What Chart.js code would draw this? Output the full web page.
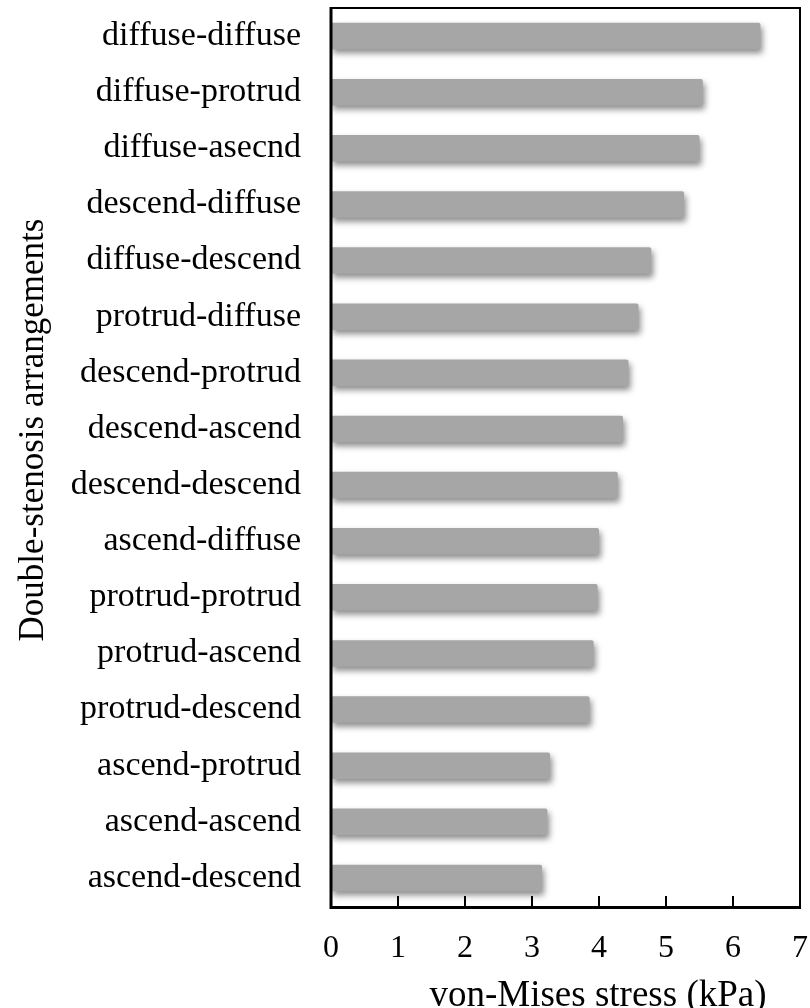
<!DOCTYPE html>
<html>
<head>
<meta charset="utf-8">
<script src="https://cdn.jsdelivr.net/npm/chart.js@4"></script>
<style>
  html, body { margin:0; padding:0; background:#fff; }
  #wrap { width:810px; height:1008px; }
</style>
</head>
<body>
<div id="wrap"><canvas id="c" width="810" height="1008"></canvas></div>
<script>
const labels = ['diffuse-diffuse','diffuse-protrud','diffuse-asecnd','descend-diffuse','diffuse-descend',
  'protrud-diffuse','descend-protrud','descend-ascend','descend-descend','ascend-diffuse',
  'protrud-protrud','protrud-ascend','protrud-descend','ascend-protrud','ascend-ascend','ascend-descend'];
const stress = [6.41, 5.55, 5.50, 5.27, 4.78, 4.59, 4.44, 4.36, 4.28, 4.00, 3.98, 3.92, 3.86, 3.27, 3.23, 3.15];
const xTicks = [0,1,2,3,4,5,6,7];
const xTitle = 'von-Mises stress (kPa)';
const yTitle = 'Double-stenosis arrangements';

const FONT = "'Liberation Serif', 'Times New Roman', serif";
const BAR = '#a6a6a6';

// shadow under bars
const shadow = {
  id:'shadow',
  beforeDatasetsDraw(chart){
    const ctx = chart.ctx;
    ctx.save();
    ctx.shadowColor = 'rgba(0,0,0,0.45)';
    ctx.shadowBlur = 6;
    ctx.shadowOffsetX = 2;
    ctx.shadowOffsetY = 4;
  },
  afterDatasetsDraw(chart){ chart.ctx.restore(); }
};

// frame, inward ticks on x, axis titles
const frame = {
  id:'frame',
  afterDraw(chart){
    const {ctx, chartArea:a, scales:{x}} = chart;
    ctx.save();
    ctx.strokeStyle = '#000';
    ctx.lineWidth = 2;
    ctx.beginPath();
    ctx.moveTo(a.left, a.top); ctx.lineTo(a.right, a.top); ctx.lineTo(a.right, a.bottom);
    ctx.stroke();
    ctx.lineWidth = 3;
    ctx.beginPath();
    ctx.moveTo(a.left, a.top - 1); ctx.lineTo(a.left, a.bottom + 1.5); ctx.lineTo(a.right + 1, a.bottom + 1.5);
    ctx.stroke();
    ctx.lineWidth = 2;
    x.ticks.forEach(t => {
      if (t.value === 0 || t.value === 7) return;
      const px = Math.round(x.getPixelForValue(t.value));
      ctx.beginPath();
      ctx.moveTo(px, a.bottom);
      ctx.lineTo(px, a.bottom - 10);
      ctx.stroke();
    });

    ctx.fillStyle = '#000';
    ctx.textAlign = 'center';
    ctx.textBaseline = 'alphabetic';
    ctx.font = '37px ' + FONT;
    ctx.fillText(xTitle, 598, 1006);
    ctx.translate(43, 430);
    ctx.rotate(-Math.PI / 2);
    ctx.font = '35px ' + FONT;
    ctx.fillText(yTitle, 0, 0);
    ctx.restore();
  }
};

new Chart(document.getElementById('c'), {
  type:'bar',
  data:{
    labels: labels,
    datasets:[{ data: stress, backgroundColor: BAR, borderWidth:0, borderRadius:2,
      categoryPercentage:1, barPercentage:0.47 }]
  },
  options:{
    indexAxis:'y',
    responsive:false,
    animation:false,
    layout:{ padding:{ top:8, right:10, left:0, bottom:0 } },
    plugins:{ legend:{ display:false }, tooltip:{ enabled:false } },
    scales:{
      x:{
        min:0, max:7,
        afterBuildTicks(s){ s.ticks = xTicks.map(v => ({ value:v })); },
        afterFit(s){ s.height = 102; s.paddingLeft = 0; s.paddingRight = 0; },
        grid:{ display:false, drawTicks:false },
        border:{ display:false },
        ticks:{ color:'#000', padding:23, font:{ family:FONT, size:32 } }
      },
      y:{
        afterFit(s){ s.width = 331; s.paddingTop = 0; s.paddingBottom = 0; },
        grid:{ display:false, drawTicks:false },
        border:{ display:false },
        ticks:{ color:'#000', padding:30, font:{ family:FONT, size:34 } }
      }
    }
  },
  plugins:[shadow, frame]
});
</script>
</body>
</html>
